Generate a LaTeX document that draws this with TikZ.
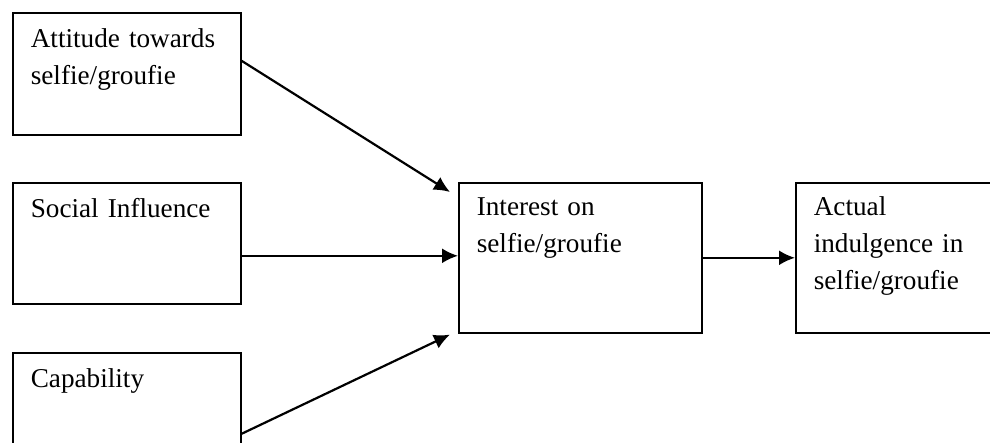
\documentclass[tikz,border=0pt]{standalone}
\usepackage{fontspec}
\setmainfont{Liberation Serif}
\usetikzlibrary{arrows.meta}
\tikzset{
  factor/.style={draw, line width=0.8pt, anchor=north west, align=left,
    inner xsep=9pt, inner ysep=0pt,
    font=\fontsize{13.6}{18.35}\selectfont},
  arr/.style={line width=1.1pt, -{Latex[length=8pt,width=7.5pt]}}
}
\begin{document}
\begin{tikzpicture}[x=0.5pt,y=-0.5pt]
  \clip (0,0) rectangle (990,443);
  \node[factor, text width=96pt, text height=17.5pt, text depth=43.5pt] (attitude) at (12,12) {Attitude towards\\selfie/groufie};
  \node[factor, text width=96pt, text height=17.5pt, text depth=43pt] (social) at (12,182) {Social Influence};
  \node[factor, text width=96pt, text height=17.5pt, text depth=43.5pt] (capability) at (12,352) {Capability};
  \node[factor, text width=103.5pt, text height=16.5pt, text depth=58.5pt] (interest) at (458,182) {Interest on\\selfie/groufie};
  \node[factor, text width=104.5pt, text height=16.5pt, text depth=58.5pt] (actual) at (795,182) {Actual\\indulgence in\\selfie/groufie};
  \draw[arr] ([yshift=6.5pt]attitude.east) -- ([shift={(-4pt,-5pt)}]interest.north west);
  \draw[arr] ([yshift=1pt]social.east |- interest.west) -- ([yshift=1pt]interest.west);
  \draw[arr] ([yshift=-10pt]capability.east) -- ([shift={(-4pt,-0.5pt)}]interest.south west);
  \draw[arr] (interest.east) -- (actual.west);
\end{tikzpicture}
\end{document}
